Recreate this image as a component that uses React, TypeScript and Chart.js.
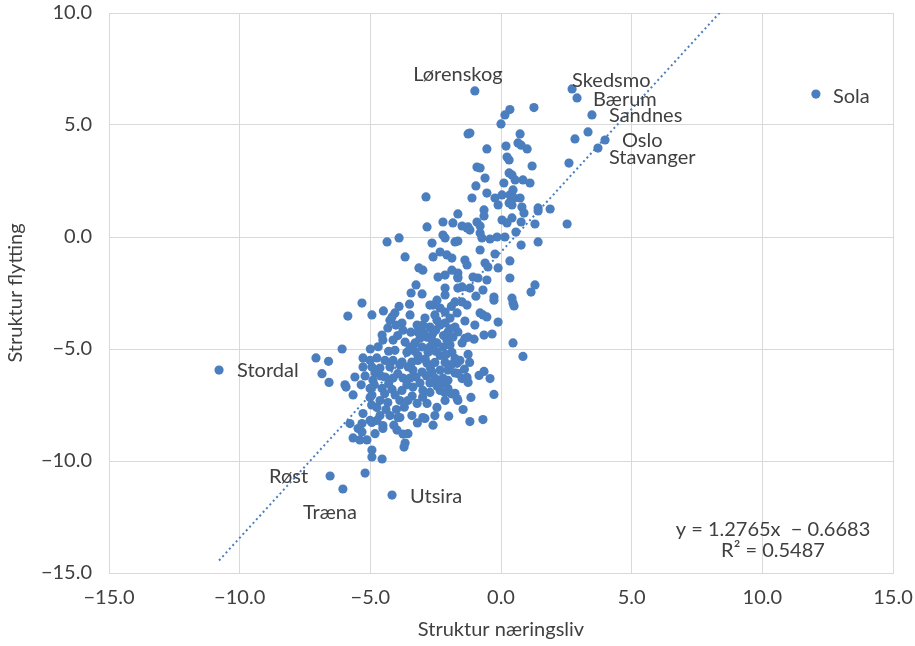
import React, { useEffect, useRef } from "react";
import { Chart, registerables } from "chart.js";

Chart.register(...registerables);

// Municipalities without label (x = Struktur næringsliv, y = Struktur flytting)
const pointX: number[] = [
  0.34, 0.15, 1.26, 0.0, -1.19, -1.26, 0.73, 0.65, 0.77, 2.83, -0.54, 0.19, 1.0, 0.23, 0.31, 2.6, 1.19, -0.92, -0.8, 0.31,
  0.42, -0.61, 0.54, 0.84, 1.11, 0.11, -0.96, 0.46, -0.54, -1.11, -0.23, 0.04, 0.34, 0.5, 0.73, 0.31, 0.42, -0.11, 0.8, 1.42,
  1.42, 1.88, -0.65, -0.65, 0.88, -1.65, 0.42, 0.04, 0.23, 0.77, 1.3, 2.53, -0.92, -0.8, -1.49, -1.26, 3.33, -2.87, -2.22, -1.84,
  -2.83,
  -4.36, -3.9, -3.67, -2.22, -2.14, -2.64, -1.76, -2.33, -2.6, -2.07, -1.88, -3.14, -2.99, -2.41, -2.14, -1.88, -1.65, -3.25, -3.44,
  -3.02, -2.14, -2.14, -1.65, -2.45, -2.72, -2.6, -5.32, -5.86, -4.94, -3.48, -4.06, -4.17, -2.33, -2.14, -1.76, -1.68, -4.55, -6.08,
  -1.3, -1.19, -0.8, -0.73, -0.42, -0.15, 0.15, 0.57, 1.42, 0.77, -1.65, -0.8, -0.23, 0.34, -1.38, -1.3, -0.61, -0.5, -0.11, -1.65,
  -1.65, -1.07, -0.88, -0.54, 0.34, 1.3, 1.15, -1.49, -1.19, -0.69, -0.96, -0.27, 0.42, 0.46, 0.5, -1.49, -1.3, -0.8, -0.69, -0.54,
  -1.38, -1.0, -0.11, -1.65, -0.65, -0.34, -1.38, -1.26, -1.03, 0.46, -1.49, 0.84, -1.26, -0.27,
  -1.57, -1.68, -1.65, -1.49, -1.3, -1.26, -0.84, -0.65, -0.42, -0.27, -1.15, -1.65, -1.19, -0.69,
  -4.25, -3.79, -3.75, -3.21, -3.18, -2.99, -2.72, -2.6, -2.33, -2.14, -2.45, -2.03, -1.84, -2.83, -3.29, -3.48, -3.02, -2.72, -2.45, -2.22,
  -1.95, -4.52, -5.28, -5.01, -4.75, -4.44, -4.13, -3.79, -5.28, -4.94, -4.63, -4.25, -3.87, -3.41, -3.18, -2.83, -3.37, -3.02, -2.64, -2.33,
  -2.03, -1.76, -4.82, -4.44, -4.13, -3.75, -4.9, -2.53, -2.22, -5.59, -5.97, -5.93, -5.66, -5.01, -4.55, -4.17, -3.79, -3.37, -2.99, -2.72,
  -2.33, -2.03, -1.76, -5.01, -4.63, -4.33, -3.87, -3.56, -3.21, -2.83, -2.45, -2.14, -4.75, -5.28, -4.63, -4.25, -3.87, -3.41, -2.91, -2.53,
  -5.01, -4.52, -5.32, -5.78, -5.47,
  -6.58, -4.94, -4.94, -4.75, -4.52, -4.82, -5.66, -5.4, -5.13, -5.32, -4.94, -4.94, -4.55, -5.2, -3.98, -3.75, -3.67, -3.71, -3.56, -3.94,
  -2.99, -2.26, -1.68,
  -2.91, -2.53, -1.95, -1.76, -2.07, -2.64, -3.1, -2.79, -2.33, -1.88, -3.18, -3.6, -4.06, -3.67, -4.13, -2.53, -2.14, -1.76, -3.48, -3.1,
  -2.03, -2.72, -4.33, -4.02,
  -7.08, -6.6, -6.85,
  -3.95, -3.45, -2.95, -2.5, -2.2, -1.95, -3.3, -2.9, -2.5, -2.1, -1.9, -2.7, -3.55, -3.95, -4.6, -4.3, -3.6, -3.25, -2.85, -2.45,
  -2.15, -3.0, -3.4, -4.05, -4.45, -4.85, -5.2, -5.35, -4.0, -3.7, -4.4, -4.95, -4.1, -3.2, -2.6, -2.0, -1.45, -1.9, -1.4, -1.2,
  -1.9, -3.5, -3.9, -4.5, -4.7, -5.0, -4.3,
];
const pointY: number[] = [
  5.69, 5.45, 5.78, 5.05, 4.64, 4.6, 4.6, 4.2, 4.1, 4.38, 3.93, 4.06, 3.93, 3.57, 3.44, 3.3, 3.17, 3.12, 3.08, 2.86,
  2.77, 2.63, 2.55, 2.55, 2.41, 2.41, 2.28, 2.1, 1.96, 1.74, 1.74, 1.88, 1.88, 1.74, 1.74, 1.52, 1.43, 1.43, 1.34, 1.3,
  1.16, 1.25, 1.21, 0.94, 1.07, 1.03, 0.85, 0.76, 0.63, 0.67, 0.58, 0.58, 0.67, 0.49, 0.49, 0.45, 4.69, 1.79, 0.67, 0.63,
  0.45,
  -0.22, -0.04, -0.89, 0.09, -0.04, -0.27, -0.22, -0.67, -0.89, -0.8, -0.94, -1.38, -1.48, -1.79, -1.7, -1.48, -1.79, -2.14, -2.5,
  -2.54, -2.28, -2.59, -2.28, -2.82, -3.04, -3.04, -2.95, -3.53, -3.48, -3.48, -3.39, -3.57, -3.17, -3.35, -2.9, -3.39, -4.38, -5.0,
  0.4, 0.31, 0.18, -0.04, -0.09, 0.0, 0.0, 0.22, -0.22, -0.36, -0.18, -0.58, -0.76, -1.07, -1.03, -1.25, -1.16, -1.34, -1.38, -1.61,
  -1.83, -1.79, -1.83, -1.92, -1.83, -2.14, -2.46, -2.23, -2.28, -2.37, -2.64, -2.68, -2.73, -2.95, -3.08, -2.9, -3.04, -3.39, -3.48, -3.57,
  -3.75, -3.93, -3.8, -4.24, -4.38, -4.33, -4.52, -4.47, -4.56, -4.73, -4.73, -5.33, -5.24, -2.82,
  -5.51, -5.64, -6.09, -6.32, -6.27, -6.49, -6.18, -6.0, -6.32, -7.03, -7.16, -7.3, -8.24, -8.15,
  -3.72, -3.84, -4.16, -3.93, -4.24, -3.93, -4.02, -4.29, -3.93, -3.84, -3.72, -4.24, -4.47, -4.47, -4.73, -4.91, -4.91, -4.91, -4.73, -4.91,
  -4.82, -4.6, -5.4, -5.51, -5.4, -5.51, -5.51, -5.58, -5.8, -5.8, -5.85, -5.8, -5.71, -5.58, -5.51, -5.64, -5.94, -6.03, -6.03, -5.94,
  -5.94, -6.07, -6.07, -6.25, -6.3, -6.3, -6.4, -6.3, -6.3, -6.25, -6.6, -6.7, -7.05, -6.76, -6.76, -6.8, -6.85, -6.7, -6.85, -6.94,
  -6.85, -6.76, -6.98, -7.16, -7.3, -7.39, -7.3, -7.3, -7.43, -7.43, -7.61, -7.3, -7.61, -7.88, -7.97, -7.97, -8.06, -7.97, -8.1, -7.97,
  -8.19, -8.42, -8.33, -8.33, -8.55,
  -6.49, -7.05, -8.28, -8.19, -8.55, -8.78, -8.97, -9.06, -9.06, -8.7, -9.51, -9.82, -9.91, -10.54, -8.62, -8.8, -9.2, -9.38, -8.78, -8.06,
  -8.06, -6.52, -7.21,
  -3.62, -3.48, -3.62, -4.02, -4.6, -4.6, -4.52, -5.15, -5.29, -5.15, -5.29, -5.15, -5.06, -4.69, -4.6, -5.6, -5.6, -5.42, -6.3, -6.52,
  -6.4, -6.52, -4.06, -3.93,
  -5.4, -5.55, -6.1,
  -4.4, -4.25, -4.3, -4.15, -4.4, -4.1, -5.1, -5.45, -5.1, -5.25, -5.7, -5.85, -5.8, -6.1, -6.2, -6.55, -6.6, -6.25, -6.2, -6.65,
  -6.95, -7.15, -7.1, -7.05, -7.0, -6.6, -6.2, -6.6, -7.7, -7.6, -7.7, -7.5, -8.4, -8.3, -8.4, -8.0, -7.7, -7.0, -5.9, -5.6,
  -3.1, -3.0, -3.1, -3.3, -4.9, -5.0, -5.1,
];

// Labelled municipalities
const labelNames: string[] = ["Lørenskog", "Skedsmo", "Bærum", "Sandnes", "Oslo", "Stavanger", "Sola", "Stordal", "Røst", "Træna", "Utsira"];
const labelX: number[] = [-1.0, 2.72, 2.91, 3.48, 3.98, 3.71, 12.05, -10.79, -6.54, -6.05, -4.17];
const labelY: number[] = [6.52, 6.61, 6.21, 5.45, 4.33, 3.97, 6.38, -5.94, -10.67, -11.25, -11.52];

// Linear trend line (Excel)
const trendSlope = 1.2765;
const trendIntercept = -0.6683;
const trendR2 = 0.5487;
const trendXRange: number[] = [-10.79, 12.05];

const xTicks: number[] = [-15, -10, -5, 0, 5, 10, 15];
const yTicks: number[] = [-15, -10, -5, 0, 5, 10];

const FONT = "Lato, 'Open Sans', sans-serif";
const TEXT = "#404040";
const BLUE = "#4a7ebf";
const GRID = "#d9d9d9";

// label placement: [dx, dy, align]
const labelPlacement: Record<string, [number, number, CanvasTextAlign]> = {
  "Lørenskog": [-17, -16, "center"],
  "Skedsmo": [0, -8, "left"],
  "Bærum": [16, 2, "left"],
  "Sandnes": [17, 1, "left"],
  "Oslo": [17, 1, "left"],
  "Stavanger": [11, 9, "left"],
  "Sola": [17, 2, "left"],
  "Stordal": [18, 0, "left"],
  "Røst": [-22, 1, "right"],
  "Træna": [-13, 24, "center"],
  "Utsira": [18, 1, "left"],
};

const fmt = (v: number) => (v < 0 ? "\u2212" + Math.abs(v).toFixed(1) : v.toFixed(1));

export default function App() {
  const ref = useRef<HTMLCanvasElement | null>(null);

  useEffect(() => {
    if (!ref.current) return;
    const scatter = pointX.map((x, i) => ({ x, y: pointY[i] }));
    const named = labelX.map((x, i) => ({ x, y: labelY[i] }));
    const trend = trendXRange.map((x) => ({ x, y: trendSlope * x + trendIntercept }));

    const labelPlugin = {
      id: "labels",
      afterDatasetsDraw(chart: any) {
        const { ctx, scales, chartArea } = chart;
        ctx.save();
        ctx.font = `20px ${FONT}`;
        ctx.fillStyle = TEXT;
        ctx.textBaseline = "middle";
        labelNames.forEach((name, i) => {
          const px = scales.x.getPixelForValue(labelX[i]);
          const py = scales.y.getPixelForValue(labelY[i]);
          const [dx, dy, align] = labelPlacement[name];
          ctx.textAlign = align;
          ctx.fillText(name, px + dx, py + dy);
        });
        ctx.textAlign = "center";
        const cx = chartArea.right - 120;
        ctx.fillText(`y = ${trendSlope.toFixed(4)}x  \u2212 ${Math.abs(trendIntercept).toFixed(4)}`, cx, chartArea.bottom - 43);
        ctx.fillText(`R\u00B2 = ${trendR2.toFixed(4)}`, cx, chartArea.bottom - 22);
        ctx.restore();
      },
    };

    const chart = new Chart(ref.current, {
      type: "scatter",
      data: {
        datasets: [
          {
            data: trend,
            showLine: true,
            borderColor: BLUE,
            borderWidth: 2,
            borderDash: [2, 3],
            pointRadius: 0,
            fill: false,
          } as any,
          {
            data: [...scatter, ...named],
            backgroundColor: BLUE,
            borderWidth: 0,
            pointRadius: 4.6,
          },
        ],
      },
      options: {
        animation: false,
        responsive: false,
        maintainAspectRatio: false,
        layout: { padding: { left: 0, top: 13, right: 22, bottom: 0 } },
        plugins: { legend: { display: false }, tooltip: { enabled: false } },
        scales: {
          x: {
            type: "linear",
            min: -15,
            max: 15,
            afterBuildTicks: (s: any) => {
              s.ticks = xTicks.map((v) => ({ value: v }));
            },
            afterFit: (s: any) => {
              s.height = 73;
              s.paddingLeft = 0;
              s.paddingRight = 0;
            },
            grid: { color: GRID, lineWidth: 1, drawTicks: false },
            border: { color: GRID },
            ticks: { color: TEXT, font: { family: FONT, size: 20 }, padding: 13, callback: (v: any) => fmt(Number(v)) },
            title: {
              display: true,
              text: "Struktur næringsliv",
              color: TEXT,
              font: { family: FONT, size: 20 },
              padding: { top: 0, bottom: 4 },
            },
          },
          y: {
            type: "linear",
            min: -15,
            max: 10,
            afterBuildTicks: (s: any) => {
              s.ticks = yTicks.map((v) => ({ value: v }));
            },
            afterFit: (s: any) => {
              s.width = 109;
              s.paddingTop = 0;
              s.paddingBottom = 0;
            },
            grid: { color: GRID, lineWidth: 1, drawTicks: false },
            border: { color: GRID },
            ticks: { color: TEXT, font: { family: FONT, size: 20 }, padding: 17, callback: (v: any) => fmt(Number(v)) },
            title: {
              display: true,
              text: "Struktur flytting",
              color: TEXT,
              font: { family: FONT, size: 20 },
              padding: { top: 4, bottom: 0 },
            },
          },
        },
      },
      plugins: [labelPlugin],
    });
    return () => chart.destroy();
  }, []);

  return (
    <div style={{ position: "fixed", left: 0, top: 0, width: 915, height: 646, background: "#fff" }}>
      <canvas ref={ref} width={915} height={646} style={{ display: "block", width: 915, height: 646 }} />
    </div>
  );
}
